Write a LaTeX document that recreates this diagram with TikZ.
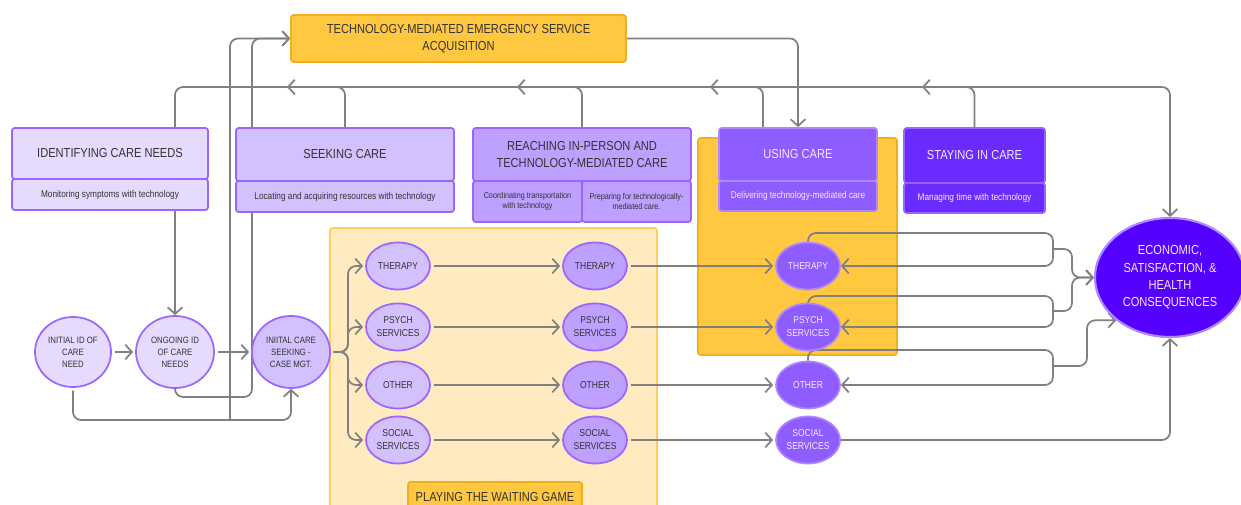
\documentclass[tikz,border=0pt]{standalone}
\usepackage{fontspec}
\setmainfont{Liberation Sans}[FakeStretch=0.85]
\usetikzlibrary{shapes.geometric,arrows.meta,calc}
\pgfdeclarelayer{back}
\pgfdeclarelayer{edges}
\pgfsetlayers{back,edges,main}

\definecolor{lavA}{HTML}{E6DBFF}
\definecolor{lavB}{HTML}{D2C0FF}
\definecolor{lavC}{HTML}{BDA0FF}
\definecolor{purA}{HTML}{8F5CFF}
\definecolor{purB}{HTML}{6A2BFF}
\definecolor{purC}{HTML}{5500FF}
\definecolor{edgeA}{HTML}{9A66FF}
\definecolor{edgeB}{HTML}{AE88FF}
\definecolor{orng}{HTML}{FFC840}
\definecolor{orngdk}{HTML}{F2AE1C}
\definecolor{paleorng}{HTML}{FFEBBF}
\definecolor{paleedge}{HTML}{FFCF5C}
\definecolor{linegray}{HTML}{808080}
\definecolor{txtdark}{HTML}{333333}
\definecolor{txtlight}{HTML}{F2EAFF}

\begin{document}
\begin{tikzpicture}[x=0.75pt, y=-0.75pt,
	>={Straight Barb[length=5pt,width=11pt]},
	box/.style={rectangle, rounded corners=2pt, line width=1.3pt, inner sep=1pt, align=center, text=txtdark},
	ttl/.style={box, font=\fontsize{9.8}{12.75}\selectfont},
	subtxt/.style={box, font=\fontsize{7.3}{7.75}\selectfont},
	oval/.style={ellipse, line width=1.3pt, inner sep=0pt, align=center, text=txtdark},
	small/.style={oval, minimum width=48pt, minimum height=35.25pt, font=\fontsize{7.5}{9.75}\selectfont},
	conn/.style={draw=linegray, line width=1.3pt, rounded corners=6pt, ->},
	gap/.style={shorten <=2.5pt, shorten >=1.5pt}]

	\useasboundingbox (0,0) rectangle (1241,505);

	\begin{pgfonlayer}{back}
	\fill[white] (0,0) rectangle (1241,505);
	\draw[fill=paleorng, draw=paleedge, line width=1.3pt, rounded corners=2pt] (330,228) rectangle (657,520);
	\draw[fill=orng, draw=orngdk, line width=1.3pt, rounded corners=2pt] (698,138) rectangle (897,355);
	\end{pgfonlayer}

	% phases
	\node[ttl, fill=orng, draw=orngdk, minimum width=251.25pt, minimum height=35.25pt] (emerg) at (458.5,38.5) {TECHNOLOGY-MEDIATED EMERGENCY SERVICE\\ACQUISITION};

	\node[ttl, fill=lavA, draw=edgeA, minimum width=147pt, minimum height=38.25pt] (identT) at (110,153.5) {IDENTIFYING CARE NEEDS};
	\node[subtxt, fill=lavA, draw=edgeA, minimum width=147pt, minimum height=23.25pt] (identS) at (110,194.5) {Monitoring symptoms with technology};

	\node[ttl, fill=lavB, draw=edgeA, minimum width=163.5pt, minimum height=39.75pt] (seekT) at (345,154.5) {SEEKING CARE};
	\node[subtxt, fill=lavB, draw=edgeA, minimum width=163.5pt, minimum height=23.25pt] (seekS) at (345,196.5) {Locating and acquiring resources with technology};

	\node[ttl, fill=lavC, draw=edgeA, minimum width=163.5pt, minimum height=39.75pt] (reachT) at (582,154.5) {REACHING IN-PERSON AND\\TECHNOLOGY-MEDIATED CARE};
	\node[subtxt, font=\fontsize{6.4}{7.75}\selectfont, fill=lavC, draw=edgeA, minimum width=81.75pt, minimum height=30.75pt] (reachL) at (527.5,201.5) {Coordinating transportation\\with technology};
	\node[subtxt, font=\fontsize{6.4}{7.75}\selectfont, fill=lavC, draw=edgeA, minimum width=81.75pt, minimum height=30.75pt] (reachR) at (636.5,201.5) {Preparing for technologically-\\mediated care.};

	\node[ttl, text=txtlight, fill=purA, draw=edgeB, minimum width=118.5pt, minimum height=39.75pt] (useT) at (798,154.5) {USING CARE};
	\node[subtxt, text=txtlight, fill=purA, draw=edgeB, minimum width=118.5pt, minimum height=22.5pt] (useS) at (798,196) {Delivering technology-mediated care};

	\node[ttl, text=txtlight, fill=purB, draw=edgeA, minimum width=105.75pt, minimum height=41.25pt] (stayT) at (974.5,155.5) {STAYING IN CARE};
	\node[subtxt, text=txtlight, fill=purB, draw=edgeA, minimum width=105.75pt, minimum height=22.5pt] (stayS) at (974.5,198) {Managing time with technology};

	\node[ttl, fill=orng, draw=orngdk, minimum width=130.5pt, minimum height=22.5pt] (waitlbl) at (495,497) {PLAYING THE WAITING GAME};

	% care path
	\node[oval, fill=lavA, draw=edgeA, minimum width=57pt, minimum height=52.5pt, font=\fontsize{6.9}{9}\selectfont] (init) at (73,352) {INITIAL ID OF\\CARE\\NEED};
	\node[oval, fill=lavA, draw=edgeA, minimum width=58.5pt, minimum height=54pt, font=\fontsize{6.9}{9}\selectfont] (ongoing) at (175,352) {ONGOING ID\\OF CARE\\NEEDS};
	\node[oval, fill=lavB, draw=edgeA, minimum width=58.5pt, minimum height=54pt, font=\fontsize{6.9}{9}\selectfont] (seek) at (291,352) {INIITAL CARE\\SEEKING -\\CASE MGT.};

	\foreach \n/\y/\txt in {t/266/THERAPY, p/327/{PSYCH\\SERVICES}, o/385/OTHER, s/440/{SOCIAL\\SERVICES}} {
		\node[small, fill=lavB, draw=edgeA] (\n1) at (398,\y) {\txt};
		\node[small, fill=lavC, draw=edgeA] (\n2) at (595,\y) {\txt};
		\node[small, fill=purA, draw=edgeB, text=txtlight] (\n3) at (808,\y) {\txt};
	}

	\node[oval, fill=purC, draw=edgeB, line width=1.6pt, text=txtlight, minimum width=112.5pt, minimum height=89.25pt, font=\fontsize{9.8}{13}\selectfont] (econ) at (1170,277.5) {ECONOMIC,\\SATISFACTION, \&\\HEALTH\\CONSEQUENCES};

	\begin{pgfonlayer}{edges}
	\coordinate (topy) at (0,87);
	\coordinate (jl) at (230,420);
	\coordinate (jr) at (252,397);
	\coordinate (fork) at (348,352);
	\coordinate (bj) at (1072,277.5);
	\coordinate (a1) at (287,87);
	\coordinate (a2) at (517,87);
	\coordinate (a3) at (710,87);
	\coordinate (a4) at (922,87);

	\draw[conn, gap] (init) -- (ongoing);
	\draw[conn, gap] (ongoing) -- (seek);
	\draw[conn, shorten <=2pt] (init.south) |- (jl) -| (seek.south);
	\draw[conn] (jl) |- (emerg.west);
	\draw[conn] (ongoing.south) |- (jr) |- (emerg.west);

	\foreach \n in {t1,p1,o1,s1}
		\draw[conn, shorten <=2pt, shorten >=1.5pt] (seek.east) -- (fork) |- (\n.west);

	\foreach \n in {t,p,o,s} {
		\draw[conn, gap] (\n1) -- (\n2);
		\draw[conn, gap] (\n2) -- (\n3);
	}

	% loops from the outcomes
	\foreach \n/\y in {t/233,p/296,o/350}
		\draw[conn] (\n3.north) |- (1053,\y) |- (\n3.east);
	\draw[conn] (1053,249) -| (bj) -- (econ.west);
	\draw[conn] (1053,311) -| (bj) -- (econ.west);
	\draw[conn] (1053,366) -- ++(34,0) |- (econ.south west);
	\draw[conn] (s3.east) -| (econ.south);

	% feedback along the top
	\draw[conn, <->] (ongoing.north) |- (econ.north |- topy) -- (econ.north);
	\draw[conn] (seekT.north) |- (a1);
	\draw[conn] (reachT.north) |- (a2);
	\draw[conn] ([xshift=-26.25pt]useT.north) |- (a3);
	\draw[conn] (stayT.north) |- (a4);
	\draw[conn] (emerg.east) -| (useT.north);
	\end{pgfonlayer}
\end{tikzpicture}
\end{document}
